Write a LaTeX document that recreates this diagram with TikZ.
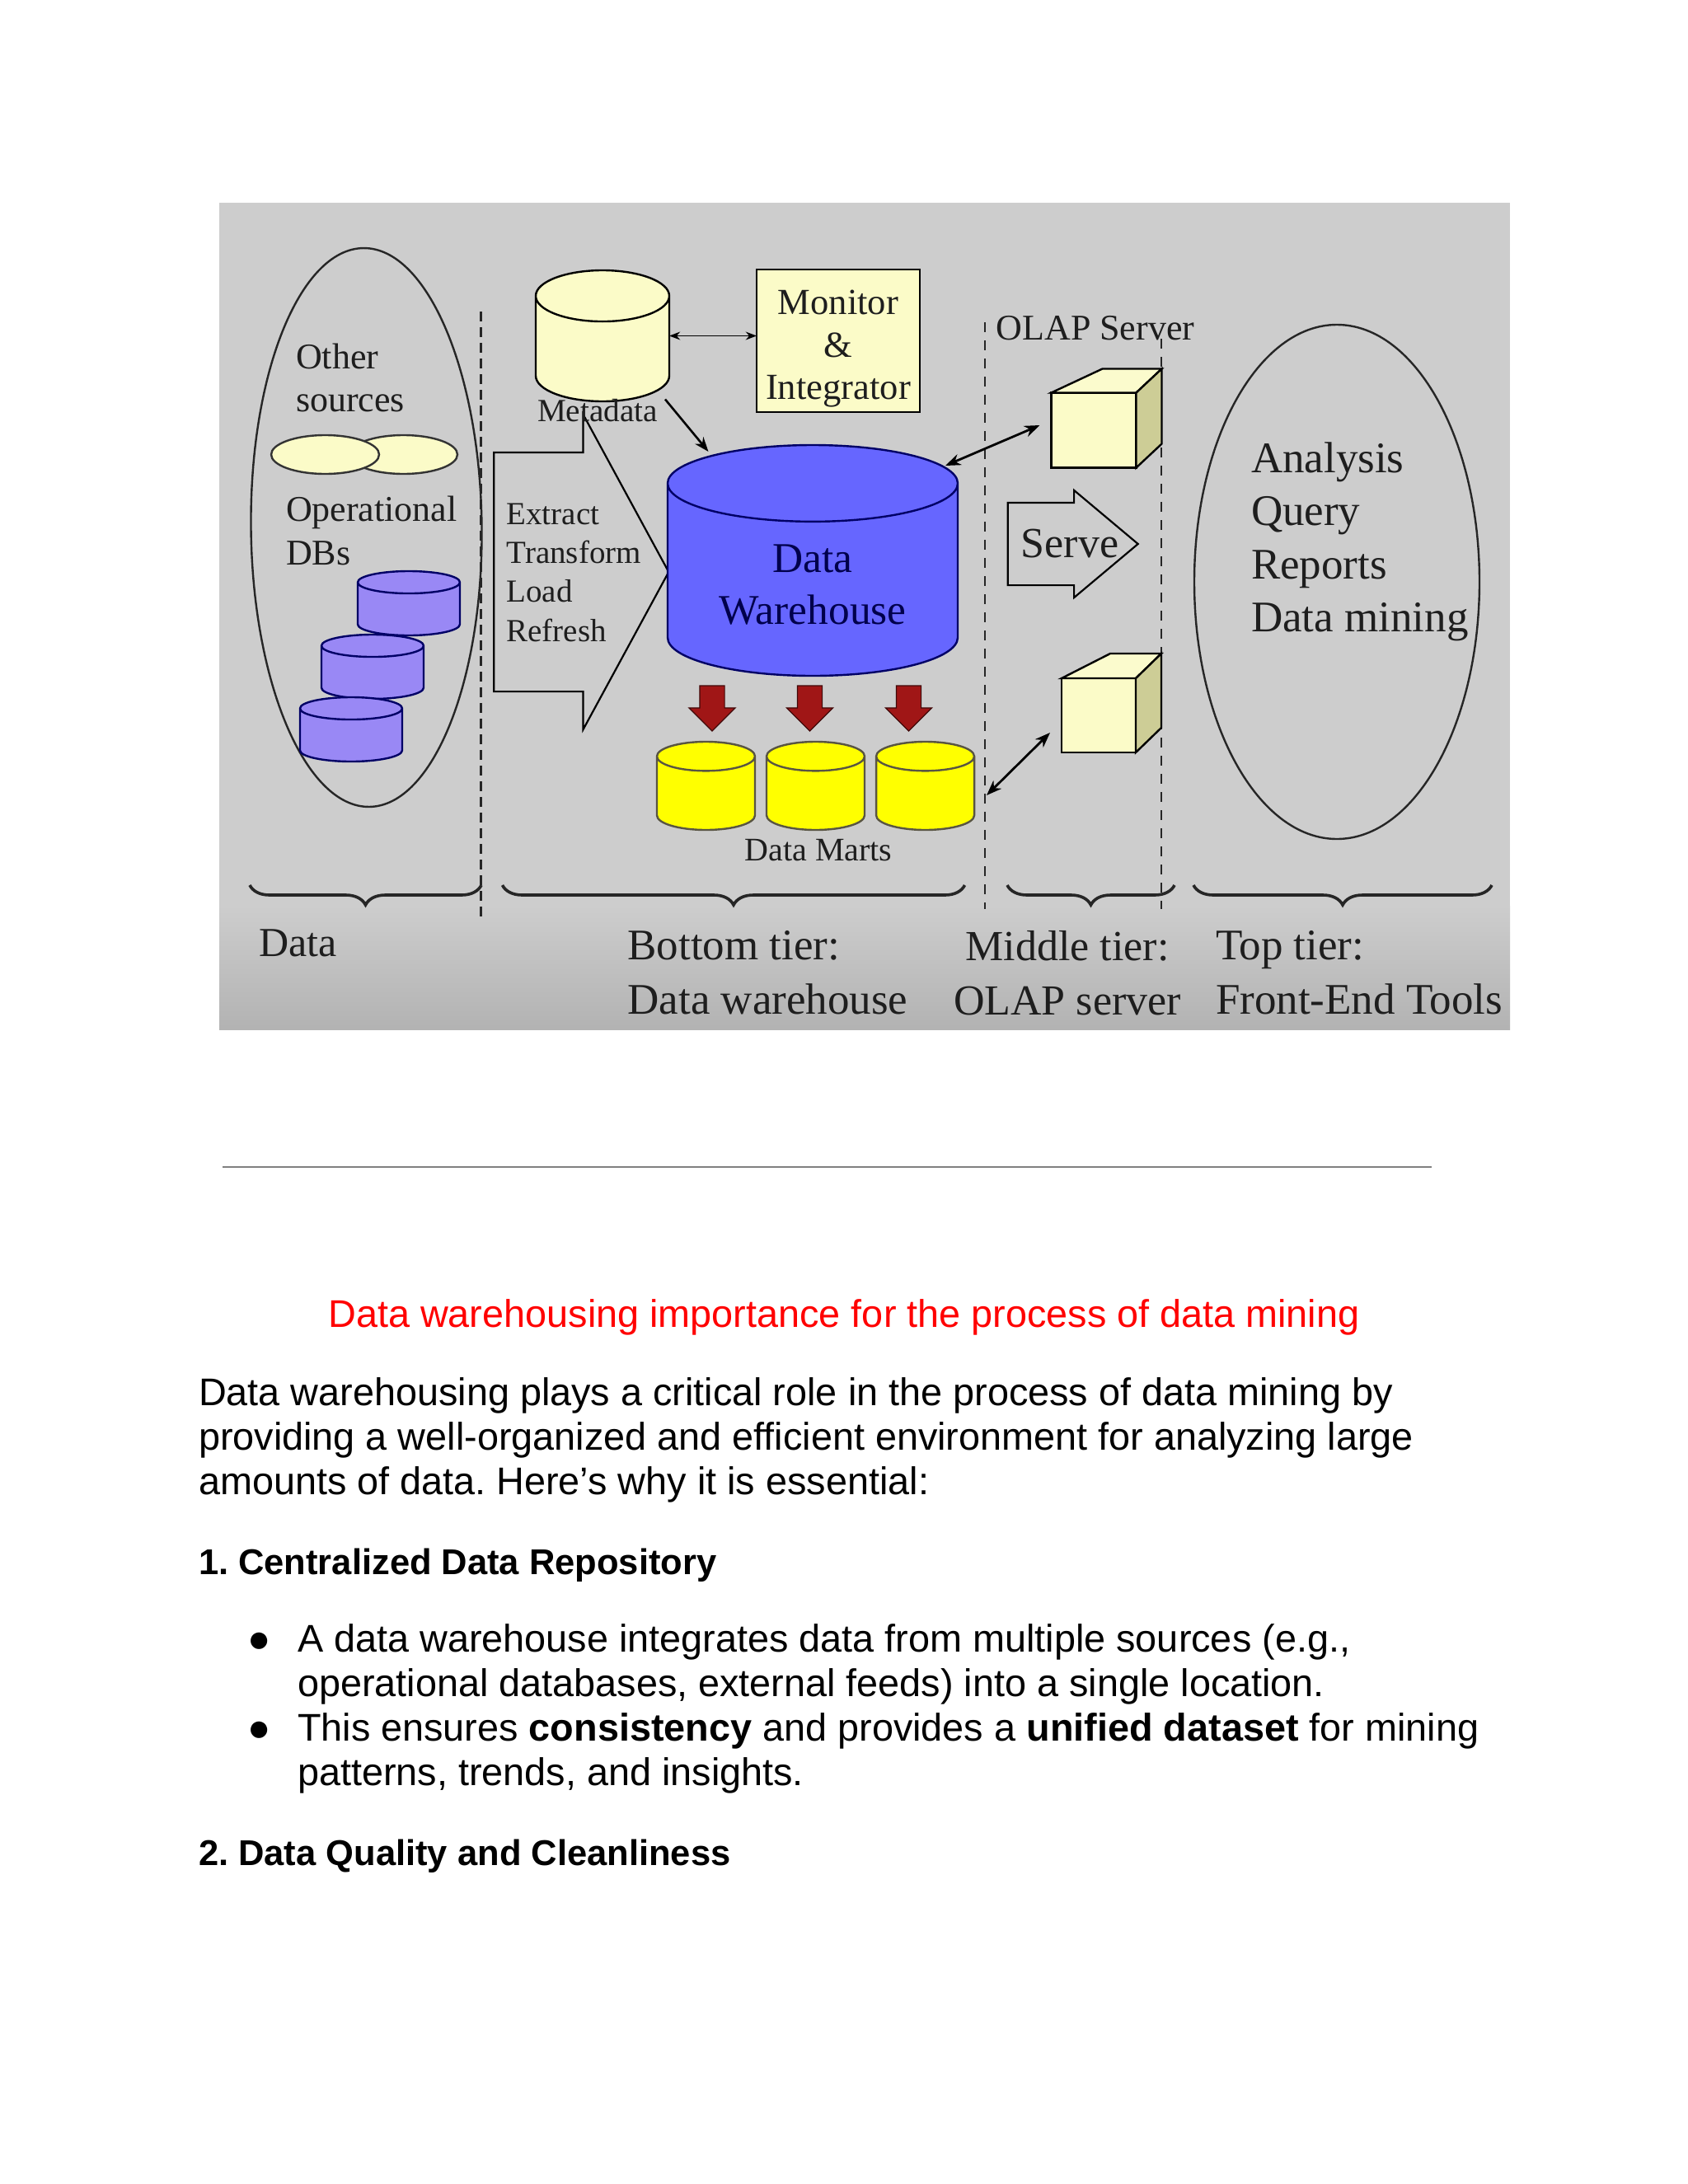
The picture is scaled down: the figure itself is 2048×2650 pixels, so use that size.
\documentclass[tikz,border=0pt]{standalone}
\usepackage{fontspec}
\setmainfont{Liberation Sans}
\newfontfamily\figfont{Liberation Serif}
\usepackage{xcolor}
\usetikzlibrary{positioning,arrows.meta,shapes.geometric,shapes.arrows,decorations.pathreplacing}
\definecolor{panelgray}{RGB}{205,205,205}
\definecolor{paleyellow}{RGB}{251,251,200}
\definecolor{sideyellow}{RGB}{205,205,150}
\definecolor{dbblue}{RGB}{102,102,255}
\definecolor{opsblue}{RGB}{153,136,245}
\definecolor{martyellow}{RGB}{255,255,0}
\definecolor{downred}{RGB}{160,22,22}
\definecolor{figink}{RGB}{30,30,30}

\tikzset{every node/.style={inner sep=0pt, outer sep=0pt}}

\begin{document}
\frenchspacing
\begin{tikzpicture}[
    x=0.5pt, y=-0.5pt,
    >=Stealth,
    figtext/.style={font=\figfont\fontsize{#1}{#1}\selectfont, text=figink, align=left},
    bodytext/.style={font=\fontsize{23.4}{27}\selectfont, align=left, anchor=west},
    headtext/.style={font=\bfseries\fontsize{21.75}{27}\selectfont, align=left, anchor=west},
    db/.style={cylinder, shape border rotate=90, anchor=shape center, draw=black, line width=1.2pt},
    metadb/.style={db, fill=paleyellow, minimum width=81pt, minimum height=79.5pt, inner xsep=40.5pt, aspect=0.383},
    opsdb/.style={db, fill=opsblue, draw=black!60!blue, minimum width=62pt, minimum height=39pt, inner xsep=31pt, aspect=0.218},
    martdb/.style={db, fill=martyellow, draw=black!75!yellow, minimum width=59.5pt, minimum height=53.5pt, inner xsep=29.75pt, aspect=0.297},
    source/.style={ellipse, draw=black!80, line width=1.2pt, fill=paleyellow, minimum width=65.5pt, minimum height=23.5pt},
    tier/.style={ellipse, draw=black!85, line width=1.2pt},
    cube/.style={rectangle, draw=black, line width=1.2pt, fill=paleyellow},
    tierline/.style={dash pattern=on 6pt off 5pt, draw=black!85, line width=1.4pt},
    tierbrace/.style={decorate, decoration={brace, mirror, amplitude=12pt}, draw=black!85, line width=1.8pt},
    downarrow/.style={single arrow, shape border rotate=270, draw=black!60!downred, fill=downred, inner sep=7.25pt, minimum height=27.5pt, minimum width=28pt, single arrow head extend=6.5pt, line width=0.6pt},
    flowarrow/.style={single arrow, draw=black, line width=1.1pt}
]

% page and picture
\path[use as bounding box, fill=white] (0,0) rectangle (2048,2650);
\fill[panelgray] (266,246) rectangle (1832,1100);
\shade[top color=panelgray, bottom color=black!30] (266,1099) rectangle (1832,1249);

% data column
\node (datazone) [tier, rotate=0.6, minimum width=140pt, minimum height=339pt] at (444.5,640) {};
\node (sourceb) [source] at (489.5,551.5) {};
\node (sourcea) [source] at (394.5,551.5) {};
\node (othertxt) [figtext=22, anchor=north west] at (359,417) {Other\\[0.17em]sources};
\node (opstxt) [figtext=22, anchor=north west] at (347,602) {Operational\\[0.2em]DBs};
\node (opsa) [opsdb] at (496,732) {};
\node (opsb) [opsdb] at (452,809) {};
\node (opsc) [opsdb] at (426,885) {};

\draw[tierline, dash pattern=on 6pt off 3.5pt, line width=1.8pt] (583.5,378) -- (583.5,1113);

% bottom tier
\node (etl) [flowarrow, inner ysep=72pt, minimum height=106pt, minimum width=190pt, single arrow head extend=23pt, single arrow tip angle=123, anchor=tail] at (599.3,694) {};
\node (etltxt) [figtext=19.5, anchor=north west] at (614.6,611) {Extract\\[0.21em]Transform\\[0.21em]Load\\[0.21em]Refresh};

\node (meta) [metadb] at (731,407.5) {};
\node (metatxt) [figtext=19.6, anchor=center] at (725,498) {Metadata};
\node (monitor) [cube, minimum width=99pt, minimum height=86.5pt, figtext=22.3, align=center] at (1017,413.5) {\rule{0pt}{24.5pt}Monitor\\[0.16em]\&\\[0.16em]Integrator};

\node (dw) [db, fill=dbblue, draw=black!60!blue, minimum width=176pt, minimum height=140pt, aspect=0.409,
    font=\figfont\fontsize{25.7}{31.5}\selectfont, text=black!70!blue, align=center] at (986,680) {\rule{0pt}{23pt}Data\\Warehouse};

\node (reda) [downarrow] at (864,852) {};
\node (redb) [downarrow] at (982.5,852) {};
\node (redc) [downarrow] at (1102.5,852) {};

\node (marta) [martdb] at (856.5,953.5) {};
\node (martb) [martdb, right=7pt of marta] {};
\node (martc) [martdb, right=7pt of martb] {};
\node (marttxt) [figtext=20, anchor=center] at (993,1032) {Data Marts};

\draw[<->, line width=0.8pt] ([yshift=3pt]monitor.west -| meta.east) -- ([yshift=3pt]monitor.west);
\draw[->, line width=1.3pt] ([shift={(76,77)}]meta.shape center) -- ([shift={(-126.5,-132)}]dw.shape center);

% middle tier
\draw[tierline] (1195,391) -- (1195,1103);
\draw[tierline] (1409,411) -- (1409,1103);
\node (olaptxt) [figtext=22, anchor=center] at (1329,398) {OLAP Server};

\node (cubea) [cube, minimum width=51.5pt, minimum height=45.5pt] at (1327,522) {};
\draw[line width=1.2pt, fill=paleyellow!90!white] (cubea.north west) -- ++(62,-29) -- ++(72,0) -- (cubea.north east) -- cycle;
\draw[line width=1.2pt, fill=sideyellow] (cubea.north east) -- ++(31,-29) -- ++(0,91) -- (cubea.south east) -- cycle;

\node (cubeb) [cube, minimum width=45pt, minimum height=45pt] at (1333,868) {};
\draw[line width=1.2pt, fill=paleyellow!90!white] (cubeb.north west) -- ++(59,-30) -- ++(62,0) -- (cubeb.north east) -- cycle;
\draw[line width=1.2pt, fill=sideyellow] (cubeb.north east) -- ++(31,-30) -- ++(0,90) -- (cubeb.south east) -- cycle;

\node (serve) [flowarrow, inner ysep=24.5pt, minimum height=79pt, minimum width=64pt, single arrow head extend=7.5pt, single arrow tip angle=80, anchor=tail] at (1222.7,660) {};
\node (servetxt) [figtext=26, anchor=center] at (1298,660) {Serve};

\coordinate (dashb) at (1197,965);
\draw[<->, line width=1.4pt] ([shift={(161,-115)}]dw.shape center) -- ([shift={(-14,-6)}]cubea.west);
\draw[<->, line width=1.4pt] (dashb) -- ([shift={(-14,21)}]cubeb.west);

% top tier
\node (frontend) [tier, minimum width=173pt, minimum height=312pt] at (1622,706) {};
\node (toolstxt) [figtext=26.5, anchor=north west] at (1518,537) {Analysis\\[0.21em]Query\\[0.21em]Reports\\[0.21em]Data mining};

% tier braces
\draw[tierbrace] (303,1074) -- (584,1074);
\draw[tierbrace] (609.5,1074) -- (1170.5,1074);
\draw[tierbrace] (1222,1074) -- (1425,1074);
\draw[tierbrace] (1448,1074) -- (1810,1074);

\node (datalabel) [figtext=25, anchor=base west] at (314,1160) {Data};
\node (bottomlabel) [figtext=26.5, anchor=north west] at (761.5,1129) {Bottom tier:\\[0.25em]Data warehouse};
\node (middlelabel) [figtext=26, align=center, anchor=north] at (1295,1129) {Middle tier:\\[0.27em]OLAP server};
\node (toplabel) [figtext=26.5, anchor=north west] at (1475,1129) {Top tier:\\[0.25em]Front-End Tools};

% document text below
\coordinate (rulea) at (270,1416);
\coordinate (ruleb) at (1737,1416);
\draw[line width=1.2pt, draw=black!50] (rulea) -- (ruleb);

\node (heading) [font=\fontsize{23.4}{27}\selectfont, text=red] at (1024,1598) {Data warehousing importance for the process of data mining};
\node (intro) [bodytext] at (241,1747) {Data warehousing plays a critical role in the process of data mining by\\providing a well-organized and efficient environment for analyzing large\\amounts of data. Here’s why it is essential:};
\node (firsthead) [headtext] at (241,1899) {1. Centralized Data Repository};
\node (firstlist) [bodytext] at (361,2073) {A data warehouse integrates data from multiple sources (e.g.,\\operational databases, external feeds) into a single location.\\This ensures \textbf{consistency} and provides a \textbf{unified dataset} for mining\\patterns, trends, and insights.};
\node (bulleta) [font=\fontsize{23.4}{27}\selectfont] at (315,1993) {●};
\node (bulletb) [font=\fontsize{23.4}{27}\selectfont] at (315,2101) {●};
\node (secondhead) [headtext] at (241,2252) {2. Data Quality and Cleanliness};

\end{tikzpicture}
\end{document}
